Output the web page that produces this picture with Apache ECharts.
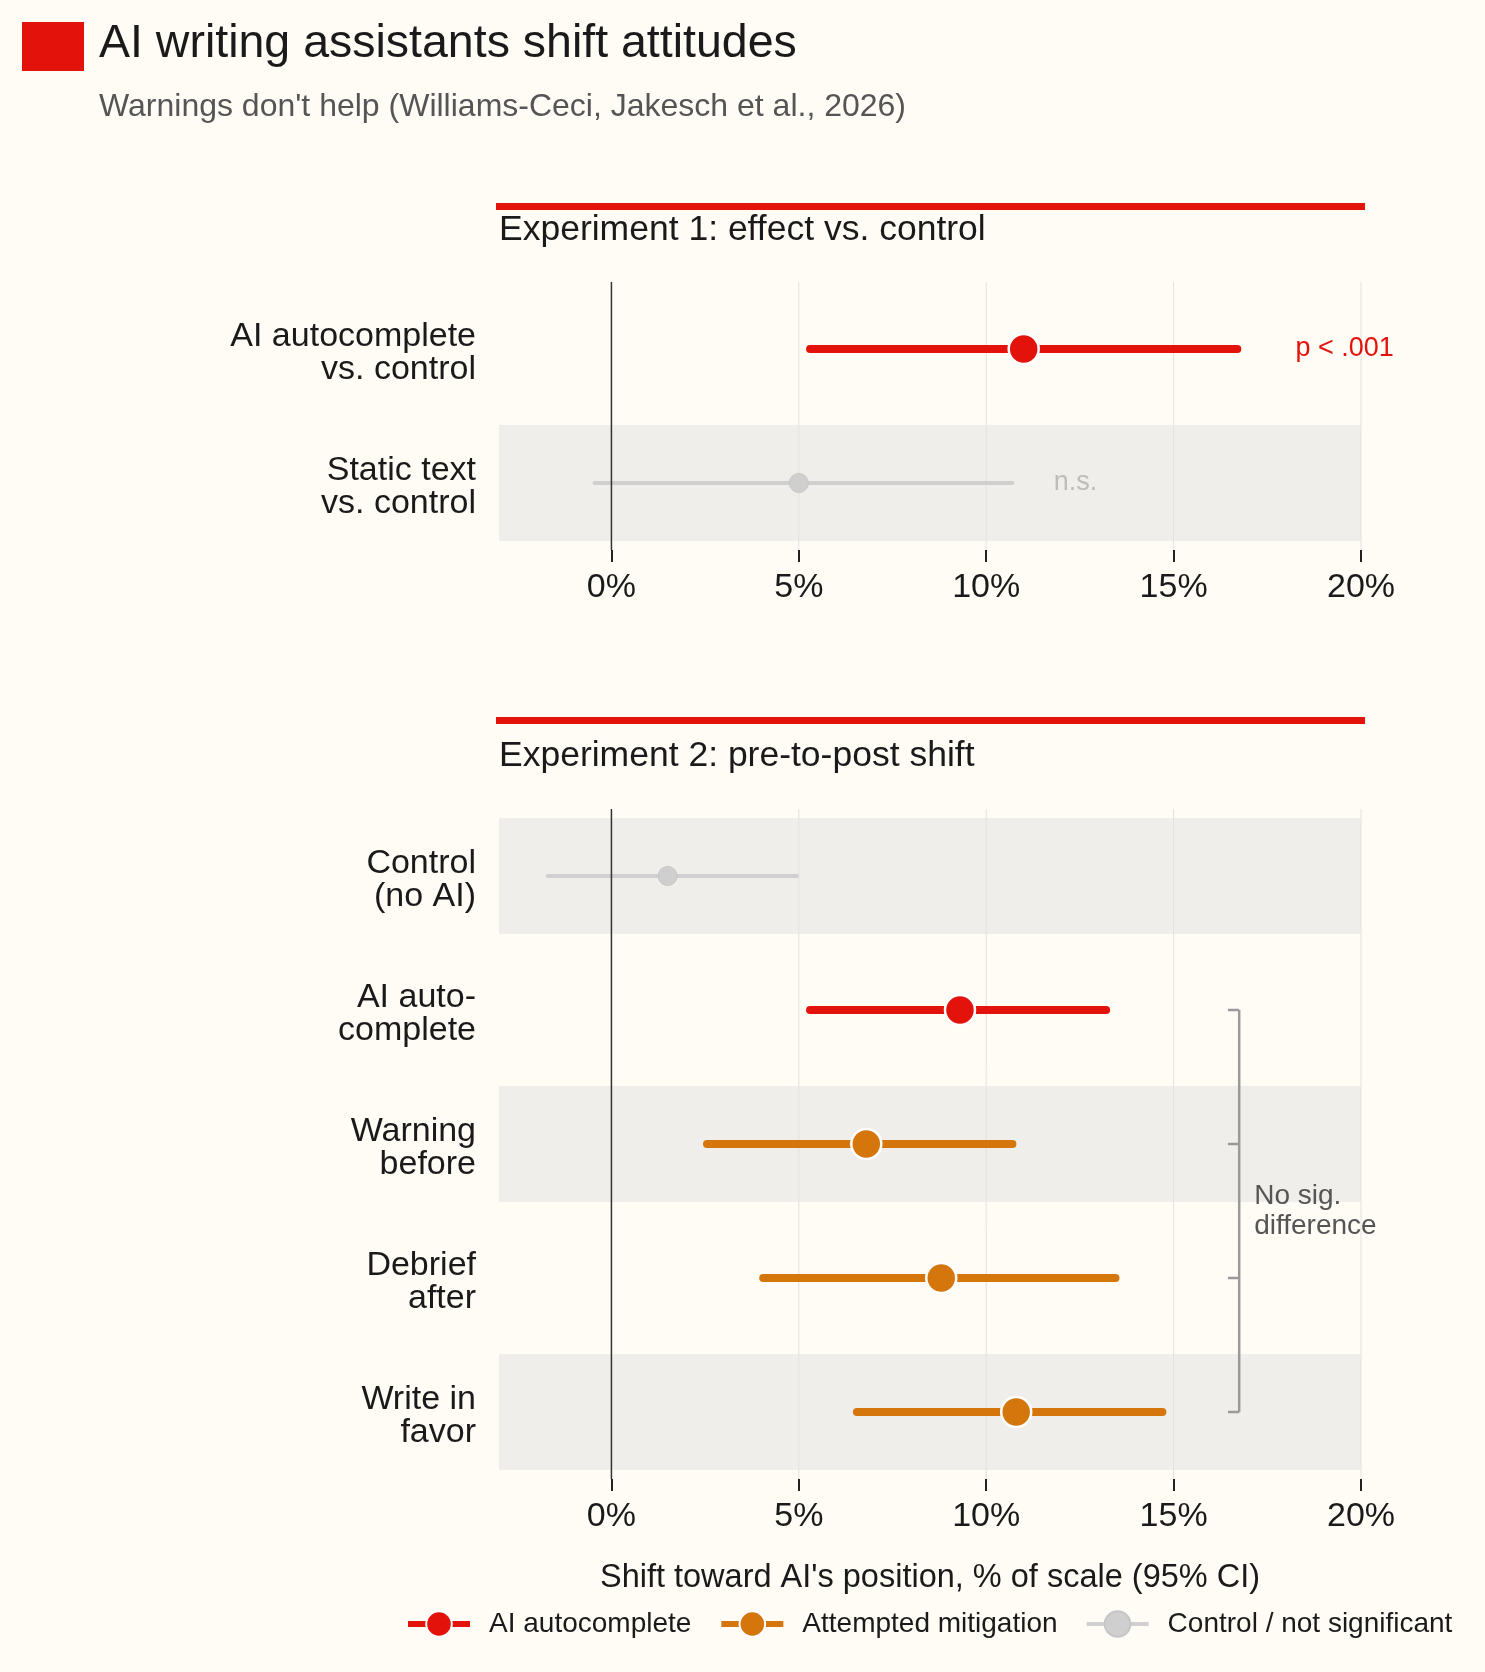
<!DOCTYPE html>
<html>
<head>
<meta charset="utf-8">
<title>AI writing assistants shift attitudes</title>
<script src="https://cdn.jsdelivr.net/npm/echarts@6/dist/echarts.min.js"></script>
<style>
  html, body { margin: 0; padding: 0; background: #FFFCF6; }
  #chart { width: 1485px; height: 1672px; }
</style>
</head>
<body>
<div id="chart"></div>
<script>
const FONT = '"Liberation Sans", Arial, Helvetica, sans-serif';
const RED = '#E3120B';
const ORANGE = '#D5760C';
const GREY = '#CFCFCF';
const INK = '#1a1a1a';

// axis
const xMin = -3;
const xMax = 20;
const xTicks = [0, 5, 10, 15, 20];

// Experiment 1: effect vs. control
const exp1Labels = ['AI autocomplete\nvs. control', 'Static text\nvs. control'];
const exp1Est = [11.0, 5.0];
const exp1Lo = [5.3, -0.45];
const exp1Hi = [16.7, 10.7];
const exp1Group = ['ai', 'ns'];
const exp1Shade = [1];
const exp1Notes = ['p < .001', 'n.s.'];
const exp1NoteX = [18.25, 11.8];

// Experiment 2: pre-to-post shift
const exp2Labels = ['Control\n(no AI)', 'AI auto-\ncomplete', 'Warning\nbefore', 'Debrief\nafter', 'Write in\nfavor'];
const exp2Est = [1.5, 9.3, 6.8, 8.8, 10.8];
const exp2Lo = [-1.7, 5.3, 2.55, 4.05, 6.55];
const exp2Hi = [4.95, 13.2, 10.7, 13.45, 14.7];
const exp2Group = ['ns', 'ai', 'mit', 'mit', 'mit'];
const exp2Shade = [0, 2, 4];

// bracket: rows compared, in data units
const bracketRows = [1, 2, 3, 4];
const bracketX = 16.75;
const bracketTick = 0.3;
const bracketTextX = 17.15;
const bracketText = 'No sig.\ndifference';

const groupColor = { ai: RED, mit: ORANGE, ns: GREY };
const groupName = { ai: 'AI autocomplete', mit: 'Attempted mitigation', ns: 'Control / not significant' };

const chart = echarts.init(document.getElementById('chart'));

function bandSeries(g, rows) {
  return {
    type: 'custom', xAxisIndex: g, yAxisIndex: g, z: 1, silent: true,
    data: rows.map(r => [xMin, xMax, r]),
    encode: { x: [0, 1], y: 2 },
    renderItem: function (params, api) {
      const a = api.coord([api.value(0), api.value(2)]);
      const b = api.coord([api.value(1), api.value(2)]);
      const h = api.size([0, 1])[1] * 0.865;
      return {
        type: 'rect',
        shape: { x: a[0], y: a[1] - h / 2, width: b[0] - a[0], height: h },
        style: { fill: '#EFEEEB' }
      };
    }
  };
}

// row labels, right-aligned just left of the plot, sitting a touch below the row centre
function rowLabelSeries(g, labels) {
  return {
    type: 'custom', xAxisIndex: g, yAxisIndex: g, z: 3, silent: true, clip: false,
    data: labels.map((s, i) => [xMin, i]),
    encode: { x: 0, y: 1 },
    renderItem: function (params, api) {
      const p = api.coord([xMin, params.dataIndex]);
      return {
        type: 'text', x: p[0] - 23, y: p[1] + 4,
        style: {
          text: labels[params.dataIndex], fill: INK, font: '34px ' + FONT,
          lineHeight: 33, align: 'right', verticalAlign: 'middle'
        }
      };
    }
  };
}

function vlineSeries(g, values, color, width, z) {
  return {
    type: 'custom', xAxisIndex: g, yAxisIndex: g, z: z, silent: true,
    data: values.map(v => [v, 0]),
    encode: { x: 0, y: 1 },
    renderItem: function (params, api) {
      const cs = params.coordSys;
      const p = api.coord([api.value(0), 0]);
      return {
        type: 'line',
        shape: { x1: p[0], y1: cs.y, x2: p[0], y2: cs.y + cs.height },
        style: { stroke: color, lineWidth: width }
      };
    }
  };
}

function intervalSeries(g, lo, hi, group, notes, noteX) {
  return {
    type: 'custom', xAxisIndex: g, yAxisIndex: g, z: 3, silent: true,
    data: lo.map((v, i) => [v, hi[i], i]),
    encode: { x: [0, 1], y: 2 },
    renderItem: function (params, api) {
      const i = params.dataIndex;
      const key = group[i];
      const a = api.coord([api.value(0), i]);
      const b = api.coord([api.value(1), i]);
      const children = [{
        type: 'line',
        shape: { x1: a[0], y1: a[1], x2: b[0], y2: b[1] },
        style: { stroke: groupColor[key], lineWidth: key === 'ns' ? 4 : 8, lineCap: 'round' }
      }];
      if (notes && notes[i]) {
        const t = api.coord([noteX[i], i]);
        children.push({
          type: 'text', x: t[0], y: t[1],
          style: {
            text: notes[i], fill: key === 'ns' ? '#BDBDBD' : RED,
            font: '27px ' + FONT, align: 'left', verticalAlign: 'middle'
          }
        });
      }
      return { type: 'group', children: children };
    }
  };
}

function pointSeries(g, est, group, key) {
  const data = [];
  est.forEach((v, i) => { if (group[i] === key) data.push([v, i]); });
  const ns = key === 'ns';
  return {
    type: 'line', name: groupName[key], xAxisIndex: g, yAxisIndex: g, z: 5,
    data: data, color: groupColor[key],
    symbol: 'circle', symbolSize: ns ? 19 : 30, showSymbol: true,
    lineStyle: { color: groupColor[key], width: 0, opacity: 0 },
    itemStyle: { color: groupColor[key], borderColor: ns ? '#C6C6C6' : '#ffffff', borderWidth: ns ? 1 : 2.5, opacity: 1 },
    emphasis: { disabled: true },
    silent: true, animation: false
  };
}

const bracketSeries = {
  type: 'custom', xAxisIndex: 1, yAxisIndex: 1, z: 3, silent: true,
  data: [[bracketX, bracketRows[0]]],
  encode: { x: 0, y: 1 },
  renderItem: function (params, api) {
    const top = api.coord([bracketX, bracketRows[0]]);
    const bot = api.coord([bracketX, bracketRows[bracketRows.length - 1]]);
    const stroke = { stroke: '#9A9A9A', lineWidth: 2.5 };
    const children = [{ type: 'line', shape: { x1: top[0], y1: top[1], x2: bot[0], y2: bot[1] }, style: stroke }];
    bracketRows.forEach(r => {
      const a = api.coord([bracketX - bracketTick, r]);
      const b = api.coord([bracketX, r]);
      children.push({ type: 'line', shape: { x1: a[0], y1: a[1], x2: b[0], y2: b[1] }, style: stroke });
    });
    const m1 = api.coord([bracketTextX, 2]);
    const m2 = api.coord([bracketTextX, 3]);
    children.push({
      type: 'text', x: m1[0], y: (m1[1] + m2[1]) / 2,
      style: { text: bracketText, fill: '#555555', font: '28px ' + FONT, lineHeight: 30, align: 'left', verticalAlign: 'middle' }
    });
    return { type: 'group', children: children };
  }
};

function xAxisCfg(g, extra) {
  return Object.assign({
    gridIndex: g, type: 'value', min: xMin, max: xMax,
    splitLine: { show: false },
    axisLine: { show: false },
    axisTick: { show: true, length: 12, lineStyle: { color: '#222', width: 2 }, customValues: xTicks },
    axisLabel: { customValues: xTicks, formatter: v => v + '%', fontSize: 34, color: INK, margin: 21, fontFamily: FONT }
  }, extra || {});
}

function yAxisCfg(g, labels) {
  return {
    gridIndex: g, type: 'category', data: labels, inverse: true,
    axisLine: { show: false }, axisTick: { show: false }, splitLine: { show: false },
    axisLabel: { show: false }
  };
}

const series = [
  bandSeries(0, exp1Shade),
  bandSeries(1, exp2Shade),
  vlineSeries(0, xTicks.filter(v => v !== 0), '#E3E2DF', 1, 2),
  vlineSeries(1, xTicks.filter(v => v !== 0), '#E3E2DF', 1, 2),
  rowLabelSeries(0, exp1Labels),
  rowLabelSeries(1, exp2Labels),
  intervalSeries(0, exp1Lo, exp1Hi, exp1Group, exp1Notes, exp1NoteX),
  intervalSeries(1, exp2Lo, exp2Hi, exp2Group, null, null),
  vlineSeries(0, [0], '#333333', 1.5, 4),
  vlineSeries(1, [0], '#333333', 1.5, 4),
  bracketSeries
];
['ai', 'mit', 'ns'].forEach(key => {
  [[0, exp1Est, exp1Group], [1, exp2Est, exp2Group]].forEach(([g, est, grp]) => {
    if (grp.indexOf(key) >= 0) series.push(pointSeries(g, est, grp, key));
  });
});

const option = {
  backgroundColor: '#FFFCF6',
  animation: false,
  textStyle: { fontFamily: FONT },
  grid: [
    { left: 499, right: 124, top: 282, height: 268 },
    { left: 499, right: 124, top: 809, height: 670 }
  ],
  xAxis: [
    xAxisCfg(0),
    xAxisCfg(1, {
      name: "Shift toward AI's position, % of scale (95% CI)",
      nameLocation: 'middle', nameGap: 99,
      nameTextStyle: { fontSize: 32.5, color: INK, fontFamily: FONT, verticalAlign: 'middle' }
    })
  ],
  yAxis: [yAxisCfg(0, exp1Labels), yAxisCfg(1, exp2Labels)],
  legend: {
    left: 405, top: 1610, padding: 0,
    itemWidth: 62, itemHeight: 32, itemGap: 27,
    selectedMode: false,
    data: [
      { name: 'AI autocomplete' },
      { name: 'Attempted mitigation' },
      { name: 'Control / not significant', lineStyle: { width: 4 } }
    ],
    lineStyle: { width: 6, opacity: 1 },
    textStyle: { fontSize: 28, color: INK, fontFamily: FONT, padding: [0, 0, 0, 14] }
  },
  graphic: [
    { type: 'rect', left: 22, top: 22, shape: { width: 62, height: 49 }, style: { fill: RED } },
    { type: 'text', x: 99, y: 44, style: { text: 'AI writing assistants shift attitudes', font: '46.5px ' + FONT, fill: INK, verticalAlign: 'middle' } },
    { type: 'text', x: 99, y: 107, style: { text: "Warnings don't help (Williams-Ceci, Jakesch et al., 2026)", font: '32px ' + FONT, fill: '#555555', verticalAlign: 'middle' } },
    { type: 'rect', left: 496, top: 203, shape: { width: 869, height: 7 }, style: { fill: RED } },
    { type: 'text', x: 499, y: 230, style: { text: 'Experiment 1: effect vs. control', font: '35.5px ' + FONT, fill: INK, verticalAlign: 'middle' } },
    { type: 'rect', left: 496, top: 717, shape: { width: 869, height: 7 }, style: { fill: RED } },
    { type: 'text', x: 499, y: 756, style: { text: 'Experiment 2: pre-to-post shift', font: '35.5px ' + FONT, fill: INK, verticalAlign: 'middle' } }
  ],
  series: series
};

chart.setOption(option);
</script>
</body>
</html>
